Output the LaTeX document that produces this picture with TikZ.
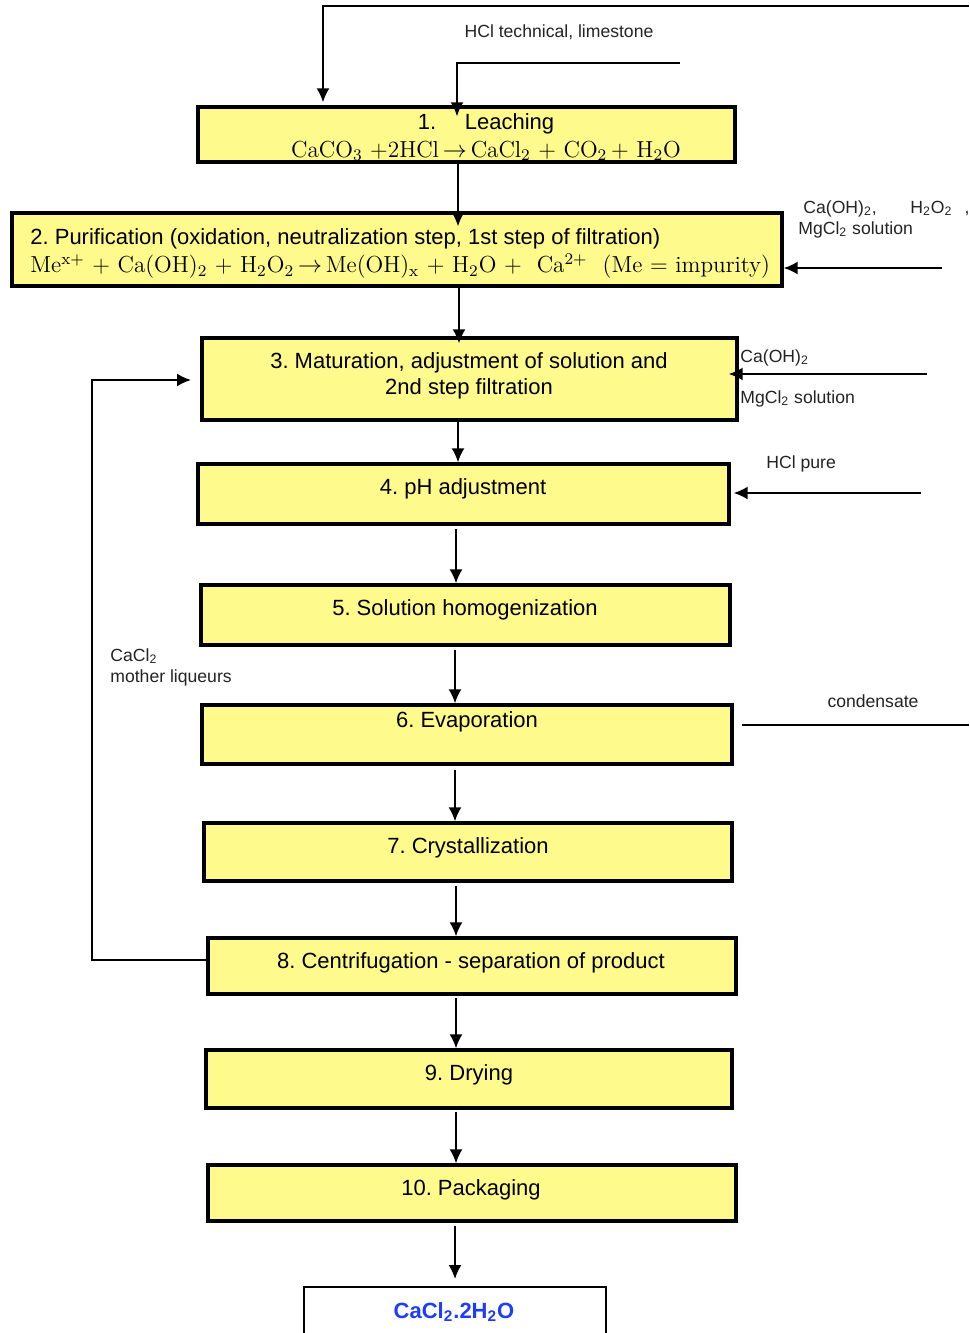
\documentclass[tikz,border=0pt]{standalone}
\usepackage{fontspec}
\setsansfont{Liberation Sans}
\usetikzlibrary{arrows.meta,calc}
\definecolor{boxfill}{RGB}{255,250,140}
\definecolor{prodblue}{RGB}{30,60,255}
\definecolor{lbl}{RGB}{35,35,35}
\frenchspacing
\begin{document}
\begin{tikzpicture}[x=0.5pt,y=-0.5pt,
 box/.style={draw=black,line width=1.7pt,fill=boxfill,inner sep=0pt},
 outbox/.style={draw=black,line width=1pt,fill=white,inner sep=0pt},
 btext/.style={font=\fontsize{11}{13}\selectfont\sffamily,inner sep=0pt},
 eqtext/.style={font=\fontsize{11.6}{13}\selectfont\rmfamily,inner sep=0pt},
 small/.style={font=\fontsize{8.8}{10.5}\selectfont\sffamily,inner sep=0pt,text=lbl},
 arr/.style={line width=0.9pt,-{Latex[length=7pt,width=6.5pt]}},
 ln/.style={line width=0.9pt}]
\clip (0,0) rectangle (969,1333);
% boxes
\node[box,minimum width=268.5pt,minimum height=27.5pt] (b1) at (466.5,134.5) {};
\node[box,minimum width=385pt,minimum height=36.5pt] (b2) at (397,249.5) {};
\node[box,minimum width=267.5pt,minimum height=41pt] (b3) at (469.5,379) {};
\node[box,minimum width=265.5pt,minimum height=30pt] (b4) at (463.5,494) {};
\node[box,minimum width=264.5pt,minimum height=30pt] (b5) at (465.5,615) {};
\node[box,minimum width=265pt,minimum height=29.5pt] (b6) at (467,734.5) {};
\node[box,minimum width=264pt,minimum height=29pt] (b7) at (468,852) {};
\node[box,minimum width=264pt,minimum height=28pt] (b8) at (472,966) {};
\node[box,minimum width=263pt,minimum height=29pt] (b9) at (469,1079) {};
\node[box,minimum width=264pt,minimum height=28pt] (b10) at (472,1193) {};
\node[outbox,minimum width=151pt,minimum height=28pt] (prod) at (455,1315) {};
% box texts
\node[btext] (t1a) at (486,124) {1.\hspace{1.3em}Leaching};
\node[eqtext] (t1b) at (486,151) {CaCO\textsubscript{3} +2HCl\,$\rightarrow$\,CaCl\textsubscript{2} + CO\textsubscript{2}\,+ H\textsubscript{2}O};
\node[btext,anchor=west] (t2a) at (30,239) {2. Purification (oxidation, neutralization step, 1st step of filtration)};
\node[eqtext,anchor=west] (t2b) at (30,266) {Me\textsuperscript{x+} + Ca(OH)\textsubscript{2} + H\textsubscript{2}O\textsubscript{2}\,$\rightarrow$\,Me(OH)\textsubscript{x} + H\textsubscript{2}O +\ \ Ca\textsuperscript{2+}\ \ (Me = impurity)};
\node[btext] (t3a) at (469,363) {3. Maturation, adjustment of solution and};
\node[btext] (t3b) at (469,389) {2nd step filtration};
\node[btext] (t4) at (463,489) {4. pH adjustment};
\node[btext] (t5) at (465,610) {5. Solution homogenization};
\node[btext] (t6) at (467,722) {6. Evaporation};
\node[btext] (t7) at (468,848) {7. Crystallization};
\node[btext] (t8) at (471,963) {8. Centrifugation - separation of product};
\node[btext] (t9) at (469,1075) {9. Drying};
\node[btext] (t10) at (471,1190) {10. Packaging};
\node[btext,font=\fontsize{11}{13}\selectfont\sffamily\bfseries,text=prodblue] (tp) at (454,1312) {CaCl\textsubscript{2}.2H\textsubscript{2}O};
% labels
\node[small] (lhcl) at (559,32) {HCl technical, limestone};
\node[small,anchor=west] (l2a) at (803,209) {\makebox[53.5pt][l]{Ca(OH)\textsubscript{2},}H\textsubscript{2}O\textsubscript{2}\hspace{6pt},};
\node[small,anchor=west] (l2b) at (798,230) {MgCl\textsubscript{2} solution};
\node[small,anchor=west] (l3a) at (740,358) {Ca(OH)\textsubscript{2}};
\node[small,anchor=west] (l3b) at (740,399) {MgCl\textsubscript{2} solution};
\node[small,anchor=west] (l4) at (766,464) {HCl pure};
\node[small,anchor=west,align=left] (lml) at (110,667) {CaCl\textsubscript{2}\\mother liqueurs};
\node[small] (lcond) at (873,701) {condensate};
% free ends
\coordinate (tA) at (969,6);
\coordinate (tB) at (323,6);
\coordinate (tC) at (680,63);
\coordinate (tD) at (457,63);
\coordinate (r2) at (942,268);
\coordinate (r3) at (927,374);
\coordinate (r4) at (921,493);
\coordinate (c1) at (742,725);
\coordinate (c2) at (969,725);
\coordinate (m1) at (92,960);
\coordinate (m2) at (92,380);
\coordinate (m3) at (191,380);
% connectors
\draw[arr] (tA) -- (tB) -- ($(tB |- b1.north)+(0,-3)$);
\draw[arr] (tC) -- (tD) -- ($(tD |- b1.north)+(0,11)$);
\draw[arr] (b1.south -| 458,0) -- ($(b2.north -| 458,0)+(0,15)$);
\draw[arr] (b2.south -| 459,0) -- ($(b3.north -| 459,0)+(0,7)$);
\draw[arr] (b3.south -| 458,0) -- (b4.north -| 458,0);
\draw[arr] ($(b4.south -| 456,0)+(0,3)$) -- (b5.north -| 456,0);
\draw[arr] ($(b5.south -| 455,0)+(0,3)$) -- (b6.north -| 455,0);
\draw[arr] ($(b6.south -| 455,0)+(0,4)$) -- (b7.north -| 455,0);
\draw[arr] ($(b7.south -| 456,0)+(0,3)$) -- (b8.north -| 456,0);
\draw[arr] ($(b8.south -| 456,0)+(0,2)$) -- (b9.north -| 456,0);
\draw[arr] ($(b9.south -| 456,0)+(0,2)$) -- (b10.north -| 456,0);
\draw[arr] ($(b10.south -| 455,0)+(0,3)$) -- ($(prod.north -| 455,0)+(0,-7)$);
\draw[arr] (r2) -- (b2.east |- r2);
\draw[arr] (r3) -- ($(b3.east |- r3)+(-10,0)$);
\draw[arr] (r4) -- ($(b4.east |- r4)+(3,0)$);
\draw[ln] (c1) -- (c2);
\draw[arr] (b8.west |- m1) -- (m1) -- (m2) -- (m3);
\end{tikzpicture}
\end{document}
